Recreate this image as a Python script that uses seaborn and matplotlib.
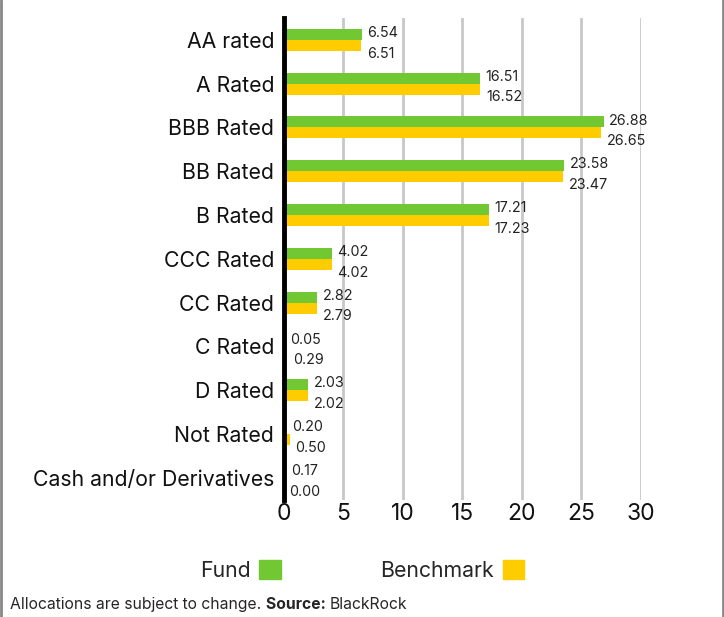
import seaborn as sns
import matplotlib.pyplot as plt
import pandas as pd
from matplotlib.patches import Patch

# Данные по кредитным рейтингам
categories = ['AA rated', 'A Rated', 'BBB Rated', 'BB Rated', 'B Rated', 'CCC Rated',
              'CC Rated', 'C Rated', 'D Rated', 'Not Rated', 'Cash and/or Derivatives']
fund = [6.54, 16.51, 26.88, 23.58, 17.21, 4.02, 2.82, 0.05, 2.03, 0.20, 0.17]
benchmark = [6.51, 16.52, 26.65, 23.47, 17.23, 4.02, 2.79, 0.29, 2.02, 0.50, 0.00]
series = ['Fund', 'Benchmark']
colors = ['#72c832', '#ffcc00']

df = pd.DataFrame({'category': categories * 2,
                   'value': fund + benchmark,
                   'series': ['Fund'] * len(fund) + ['Benchmark'] * len(benchmark)})

sns.set_style('white')
plt.rcParams['font.family'] = ['Inter', 'DejaVu Sans']

fig = plt.figure(figsize=(7.24, 6.17), dpi=100)
ax = fig.add_axes([0.392, 0.19, 0.493, 0.781])
sns.barplot(data=df, x='value', y='category', hue='series', palette=colors,
            width=0.5, orient='h', ax=ax, legend=False, saturation=1, linewidth=0)

# Подписи значений
for cont, dy in zip(ax.containers, [1, -6]):
    for bar, v in zip(cont, cont.datavalues):
        ax.annotate(f'{v:.2f}', (bar.get_width(), bar.get_y() + bar.get_height() / 2),
                    xytext=(4, dy), textcoords='offset points', va='center', ha='left',
                    fontsize=10.3, color='#222222', annotation_clip=False)

ax.set_xlim(0, 30)
ax.set_xticks(range(0, 31, 5))
ax.xaxis.grid(True, color='#c8c8c8', linewidth=2)
ax.set_axisbelow(True)
for s in ['top', 'right', 'bottom']:
    ax.spines[s].set_visible(False)
ax.spines['left'].set_color('black')
ax.spines['left'].set_linewidth(3.5)
ax.spines['left'].set_zorder(5)
ax.tick_params(axis='both', length=0, colors='#111111')
ax.tick_params(axis='y', pad=7, labelsize=15.3)
ax.tick_params(axis='x', pad=2, labelsize=16.5)
ax.set_xlabel('')
ax.set_ylabel('')

handles = [Patch(color=c, label=s) for c, s in zip(colors, series)]
fig.legend(handles=handles, loc='center', bbox_to_anchor=(0.5, 0.075), ncol=2,
           frameon=False, markerfirst=False, fontsize=15.3, handlelength=1.0,
           handleheight=1.0, columnspacing=4.7, handletextpad=0.4)

# Подпись внизу: обычный текст + жирное "Source:"
fig.canvas.draw()
r = fig.canvas.get_renderer()
x = 0.014
for txt, w in [('Allocations are subject to change.\u00a0', 'normal'), ('Source:\u00a0', 'bold'), ('BlackRock', 'normal')]:
    t = fig.text(x, 0.021, txt, fontsize=11.3, fontweight=w, ha='left', va='center')
    x += t.get_window_extent(r).width / fig.bbox.width

fig.add_artist(plt.Line2D([0.002, 0.002], [0, 1], color='#888888', linewidth=2))
fig.add_artist(plt.Line2D([0.998, 0.998], [0, 1], color='#888888', linewidth=2))

fig.savefig('out.png', dpi=100)
